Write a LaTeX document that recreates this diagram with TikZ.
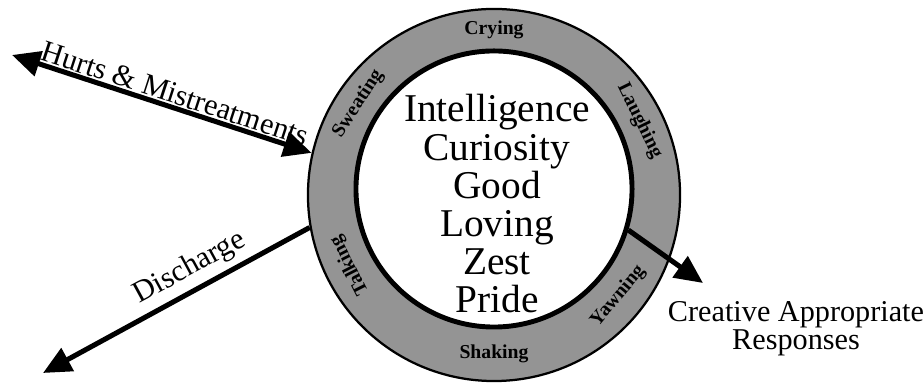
\documentclass[tikz,border=0pt]{standalone}
\usepackage{fontspec}
\setmainfont{Liberation Serif}
\usepackage{tikz}
\usetikzlibrary{arrows.meta,calc}
\definecolor{ringgray}{gray}{0.58}

\begin{document}
\begin{tikzpicture}[
    x=0.025cm,y=0.025cm,
    core/.style     = {font=\fontsize{28}{28}\selectfont, inner sep=0pt},
    side/.style     = {font=\fontsize{21.5}{20}\selectfont, inner sep=0pt},
    ringlbl/.style  = {font=\fontsize{14}{14}\selectfont\bfseries, inner sep=0pt},
    fleche/.style   = {line width=3.6pt, -{Triangle[length=20pt,width=18pt]}},
    doublef/.style  = {line width=3.6pt,
                       {Triangle[length=20pt,width=18pt]}-{Triangle[length=20pt,width=18pt]}},
  ]
  \useasboundingbox (0,0) rectangle (924,385);

  % ── Anneau et cercle central ───────────────────────────────────────────
  \node[circle, draw, line width=1.6pt, fill=ringgray, minimum size=9.3cm]
       (ring) at (494,190) {};
  \node[circle, draw, line width=3.5pt, fill=white, minimum size=6.9cm]
       (core) at (494,196) {};
  \coordinate (mid) at (494,193);

  % ── Qualités ────────────────────────────────────────────────────────────
  \foreach \w [count=\i] in {Intelligence,Curiosity,Good,Loving,Zest,Pride}
    \node[core, anchor=base] (q\i) at (497,{263-(\i-1)*38.2}) {\w};

  % ── Libellés de l'anneau : haut vers l'extérieur, bas vers l'intérieur ──
  \foreach \lbl/\ang in {Crying/90,Laughing/26,Sweating/147,Talking/207}
    \node[ringlbl, rotate=\ang-90] (\lbl) at ($(mid)+(\ang:162)$) {\lbl};

  \foreach \lbl/\ang in {Shaking/-90,Yawning/-40}
    \node[ringlbl, rotate=\ang+90] (\lbl) at ($(mid)+(\ang:162)$) {\lbl};

  % ── Flèches ─────────────────────────────────────────────────────────────
  \coordinate (hurtsTail) at (12,330);
  \coordinate (dischTip)  at (43,12);
  \coordinate (respTip)   at (703,102);

  \draw[doublef] (hurtsTail) --
       node[side, sloped, above=1pt, pos=0.53] {Hurts \& Mistreatments} (ring.167);
  \draw[fleche] (ring.190) --
       node[side, sloped, above=4pt, pos=0.41] {Discharge} (dischTip);
  \draw[fleche] (core.-17) -- (respTip);

  \node[side, align=center] (resp) at (796,56) {Creative Appropriate\\Responses};

\end{tikzpicture}
\end{document}
